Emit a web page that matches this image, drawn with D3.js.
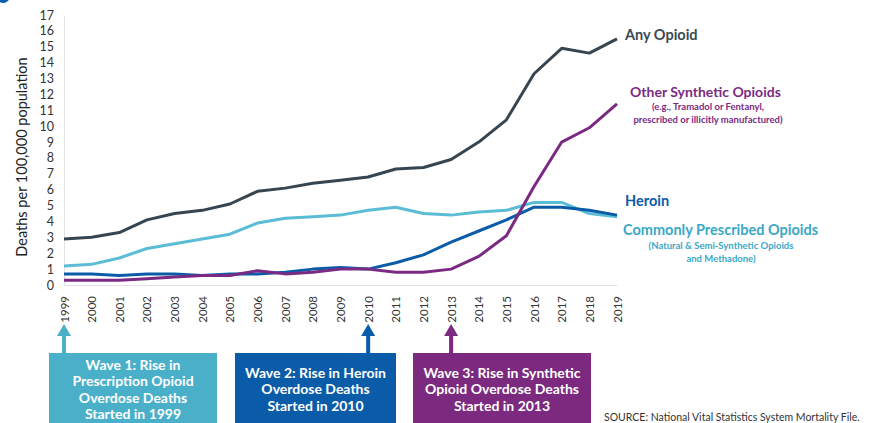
<!DOCTYPE html>
<html>
<head>
<meta charset="utf-8">
<script src="https://cdn.jsdelivr.net/npm/d3@7"></script>
<style>
  body { margin: 0; background: #fff; }
  text { font-family: Lato, "Open Sans", sans-serif; }
</style>
</head>
<body>
<script>
/* data */
var years = d3.range(1999, 2020)
var anyOpioid = [2.9, 3.0, 3.3, 4.1, 4.5, 4.7, 5.1, 5.9, 6.1, 6.4, 6.6, 6.8, 7.3, 7.4, 7.9, 9.0, 10.4, 13.3, 14.9, 14.6, 15.5]
var synthetic = [0.3, 0.3, 0.3, 0.4, 0.5, 0.6, 0.6, 0.9, 0.7, 0.8, 1.0, 1.0, 0.8, 0.8, 1.0, 1.8, 3.1, 6.2, 9.0, 9.9, 11.4]
var heroin = [0.7, 0.7, 0.6, 0.7, 0.7, 0.6, 0.7, 0.7, 0.8, 1.0, 1.1, 1.0, 1.4, 1.9, 2.7, 3.4, 4.1, 4.9, 4.9, 4.7, 4.4]
var prescribed = [1.2, 1.3, 1.7, 2.3, 2.6, 2.9, 3.2, 3.9, 4.2, 4.3, 4.4, 4.7, 4.9, 4.5, 4.4, 4.6, 4.7, 5.2, 5.2, 4.5, 4.3]
var yTicks = d3.range(0, 18)

var series = [
    { name: 'prescribed', values: prescribed, color: '#5bbcd6' },
    { name: 'heroin', values: heroin, color: '#0b5ca8' },
    { name: 'synthetic', values: synthetic, color: '#7b2a83' },
    { name: 'any', values: anyOpioid, color: '#374550' }
]

var waves = [
    { year: 1999, color: '#4ab0c9', lines: ['Wave 1: Rise in', 'Prescription Opioid', 'Overdose Deaths', 'Started in 1999'], x0: 49, x1: 217 },
    { year: 2010, color: '#0b5ca8', lines: ['Wave 2: Rise in Heroin', 'Overdose Deaths', 'Started in 2010'], x0: 235, x1: 396 },
    { year: 2013, color: '#7b2a7f', lines: ['Wave 3: Rise in Synthetic', 'Opioid Overdose Deaths', 'Started in 2013'], x0: 413, x1: 591 }
]

/* setup */
var width = 872, height = 423
var svg = d3.select('body').append('svg')
    .attr('width', width)
    .attr('height', height)

var x = d3.scaleLinear().domain([1999, 2019]).range([64, 617])
var y = d3.scaleLinear().domain([0, 17]).range([285, 15])

// cut-off title marker in the corner
svg.append('circle').attr('cx', 3).attr('cy', -4).attr('r', 7).attr('fill', '#0b5ca8')

// axes
var yAxis = svg.append('g')
    .attr('transform', 'translate(64,0)')
    .call(d3.axisLeft(y).tickValues(yTicks).tickSize(0).tickPadding(10))
yAxis.select('.domain').attr('stroke', '#e2e2e2')
yAxis.selectAll('text').attr('font-size', 12.5).attr('fill', '#333')

var xAxis = svg.append('g')
    .attr('transform', 'translate(0,285)')
    .call(d3.axisBottom(x).tickValues(years).tickFormat(d3.format('d')).tickSize(0))
xAxis.select('.domain').attr('stroke', '#e2e2e2')
xAxis.selectAll('text')
    .attr('font-size', 11.5)
    .attr('fill', '#333')
    .attr('text-anchor', 'end')
    .attr('transform', 'rotate(-90)')
    .attr('x', -11)
    .attr('y', 0)
    .attr('dy', '0.35em')

svg.append('text')
    .attr('transform', 'translate(22,157) rotate(-90)')
    .attr('text-anchor', 'middle')
    .attr('dy', '0.35em')
    .attr('font-size', 14.5)
    .attr('fill', '#222')
    .text('Deaths per 100,000 population')

// lines
var line = d3.line()
    .x(function(d, i) { return x(years[i]) })
    .y(function(d) { return y(d) })

svg.append('g').selectAll('path').data(series).enter().append('path')
    .attr('d', function(d) { return line(d.values) })
    .attr('fill', 'none')
    .attr('stroke', function(d) { return d.color })
    .attr('stroke-width', 3)
    .attr('stroke-linejoin', 'round')

// series labels
function label(txt, xp, yp, size, color, anchor) {
    svg.append('text')
        .attr('x', xp).attr('y', yp)
        .attr('font-size', size)
        .attr('font-weight', 'bold')
        .attr('fill', color)
        .attr('text-anchor', anchor || 'start')
        .attr('dy', '0.35em')
        .text(txt)
}
label('Any Opioid', 625, 35, 14.5, '#3b4954')
label('Other Synthetic Opioids', 630, 92, 14, '#7b2a83')
label('(e.g., Tramadol or Fentanyl,', 708, 107, 9.5, '#7b2a83', 'middle')
label('prescribed or illicitly manufactured)', 708, 120, 9.5, '#7b2a83', 'middle')
label('Heroin', 625, 201, 14.5, '#0b5ca8')
label('Commonly Prescribed Opioids', 623, 230, 14.5, '#3aa8c6')
label('(Natural & Semi-Synthetic Opioids', 721, 246, 9.5, '#3aa8c6', 'middle')
label('and Methadone)', 721, 259, 9.5, '#3aa8c6', 'middle')

// wave boxes with arrows
var wg = svg.append('g').selectAll('g').data(waves).enter().append('g')
wg.append('rect')
    .attr('x', function(d) { return d.x0 })
    .attr('y', 353)
    .attr('width', function(d) { return d.x1 - d.x0 })
    .attr('height', 80)
    .attr('fill', function(d) { return d.color })
wg.append('rect')
    .attr('x', function(d) { return x(d.year) - 2 })
    .attr('y', 334)
    .attr('width', 4)
    .attr('height', 20)
    .attr('fill', function(d) { return d.color })
wg.append('path')
    .attr('d', function(d) {
        var cx = x(d.year)
        return 'M' + (cx - 7) + ',336L' + cx + ',324L' + (cx + 7) + ',336Z'
    })
    .attr('fill', function(d) { return d.color })
wg.each(function(d) {
    var g = d3.select(this)
    var cx = (d.x0 + d.x1) / 2
    var start = d.lines.length === 4 ? 365 : 373
    d.lines.forEach(function(t, i) {
        g.append('text')
            .attr('x', cx).attr('y', start + i * 16.5)
            .attr('dy', '0.35em')
            .attr('text-anchor', 'middle')
            .attr('font-size', 14)
            .attr('font-weight', 'bold')
            .attr('fill', '#fff')
            .text(t)
    })
})

svg.append('text')
    .attr('x', 604).attr('y', 417)
    .attr('dy', '0.35em')
    .attr('font-size', 10.5)
    .attr('fill', '#333')
    .text('SOURCE: National Vital Statistics System Mortality File.')
</script>
</body>
</html>
